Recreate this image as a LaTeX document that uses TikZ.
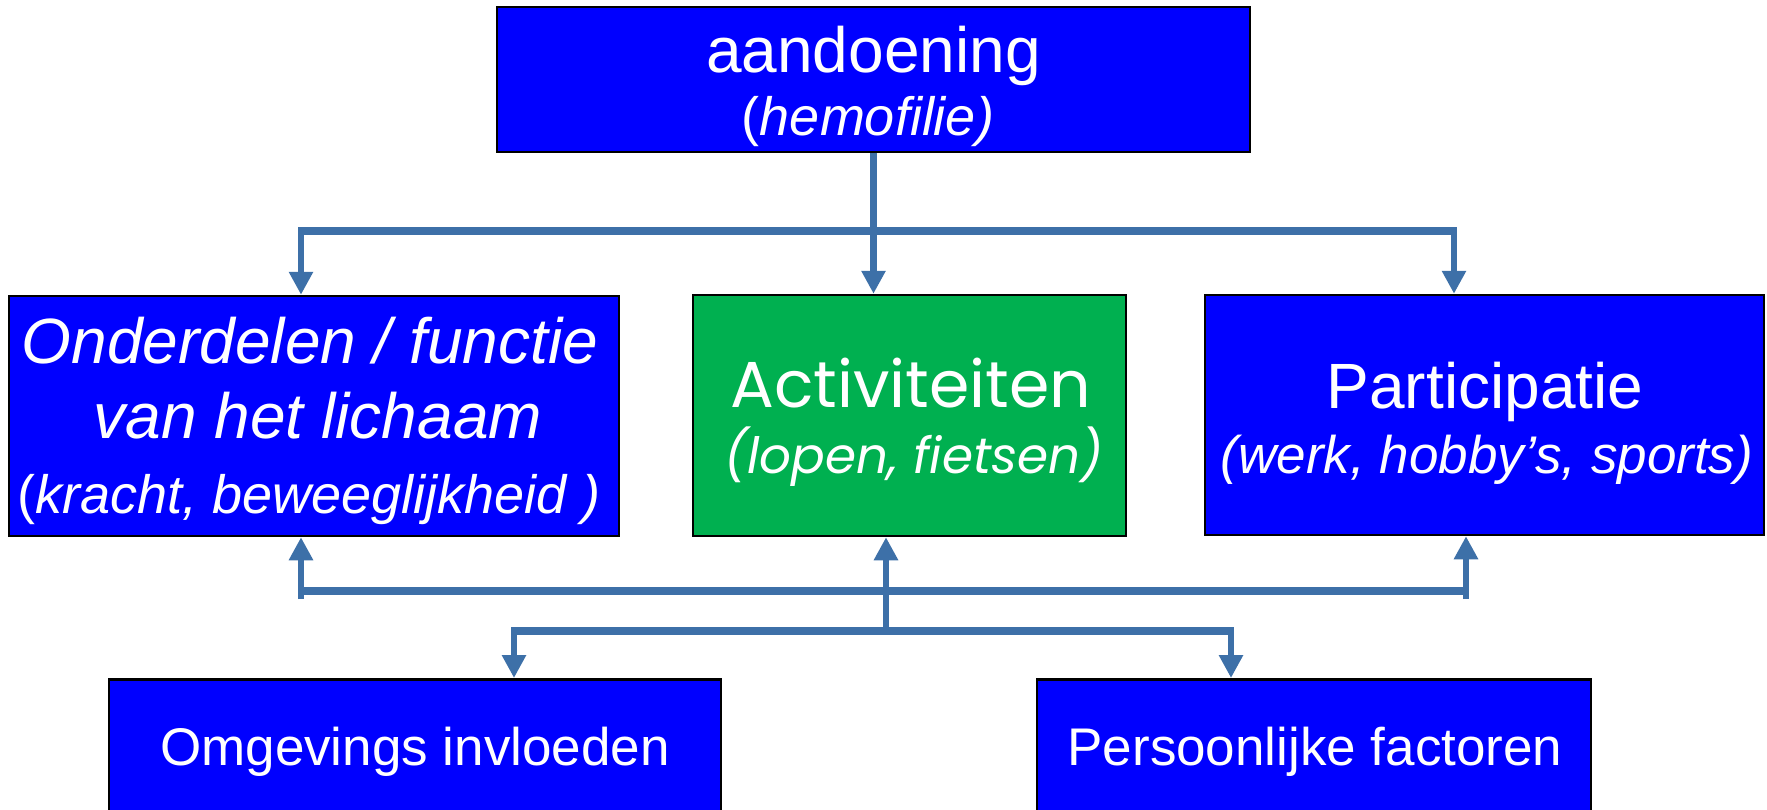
\documentclass[tikz,border=0pt]{standalone}
\usepackage{fontspec}
\setmainfont{Liberation Sans}
\newfontfamily\comic{Poppins}
\usetikzlibrary{arrows.meta,calc}
\definecolor{boxblue}{RGB}{0,0,255}
\definecolor{boxgreen}{RGB}{0,176,80}
\definecolor{conn}{RGB}{61,112,168}
\tikzset{
  box/.style={draw=black, line width=2.5pt, inner sep=0pt},
  txt/.style={text=white, anchor=base, inner sep=0pt},
  stem/.style={draw=conn, line width=6.5pt, -{Triangle[length=23pt,width=23pt]}},
  plainstem/.style={draw=conn, line width=6.5pt},
  bar/.style={draw=conn, line width=8pt},
}
\newcommand{\bigsz}{\fontsize{64}{64}\selectfont}
\newcommand{\smlsz}{\fontsize{54}{54}\selectfont}
\begin{document}
\begin{tikzpicture}[x=1pt,y=-1pt]
\clip (0,0) rectangle (1767,809);
\fill[white] (0,0) rectangle (1767,809);
% boxes
\node[box, fill=boxblue, minimum width=753pt, minimum height=145pt] (top) at (873.5,79.5) {};
\node[box, fill=boxblue, minimum width=610pt, minimum height=240pt] (left) at (314,416) {};
\node[box, fill=boxgreen, minimum width=433pt, minimum height=241pt] (act) at (909.5,415.5) {};
\node[box, fill=boxblue, minimum width=559pt, minimum height=240pt] (right) at (1484.5,415) {};
\node[box, fill=boxblue, minimum width=612pt, minimum height=200pt, anchor=north] (omg) at (415,678) {};
\node[box, fill=boxblue, minimum width=554pt, minimum height=200pt, anchor=north] (pers) at (1314,678) {};
% texts
\node[txt] (topA) at (873.5,72) {\bigsz aandoening};
\node[txt] (topB) at (868,135) {\smlsz (\textit{hemofilie)}};
\node[txt] (leftA) at (310,363) {\bigsz\itshape Onderdelen / functie};
\node[txt] (leftB) at (318,438) {\bigsz\itshape van het lichaam};
\node[txt] (leftC) at (309,513) {\smlsz (\textit{kracht, beweeglijkheid )}};
\node[txt] (actA) at (911,407) {\comic\fontsize{65}{65}\selectfont Activiteiten};
\node[txt] (actB) at (914,473) {\comic\fontsize{50}{50}\selectfont\itshape (lopen, fietsen)};
\node[txt] (rightA) at (1485,408) {\bigsz Participatie};
\node[txt] (rightB) at (1487,473) {\fontsize{53}{53}\selectfont\itshape (werk, hobby’s, sports)};
\node[txt] (omgA) at (415,765) {\fontsize{53}{53}\selectfont Omgevings invloeden};
\node[txt] (persA) at (1315,765) {\fontsize{53}{53}\selectfont Persoonlijke factoren};
% connectors: top level
\coordinate (b1L) at (301,231);
\coordinate (b1R) at (1454,231);
\draw[bar] ($(b1L)+(-3,0)$) -- ($(b1R)+(3,0)$);
\draw[stem] (top.south) -- (top.south |- act.north);
\draw[stem] (b1L) -- (b1L |- left.north);
\draw[stem] (b1R) -- (b1R |- right.north);
% lower bars
\coordinate (b2L) at (301,599);
\coordinate (b2C) at (886,591);
\coordinate (b2R) at (1466,599);
\draw[bar] (301,591) -- (1466,591);
\draw[stem] (b2L) -- (b2L |- left.south);
\draw[stem] (b2C) -- (b2C |- act.south);
\draw[stem] (b2R) -- (b2R |- right.south);
\coordinate (b3L) at (514,631);
\coordinate (b3R) at (1231,631);
\draw[plainstem] (b2C) -- (b2C |- b3L);
\draw[bar] ($(b3L)+(-3,0)$) -- ($(b3R)+(3,0)$);
\draw[stem] (b3L) -- (b3L |- omg.north);
\draw[stem] (b3R) -- (b3R |- pers.north);
\end{tikzpicture}
\end{document}
